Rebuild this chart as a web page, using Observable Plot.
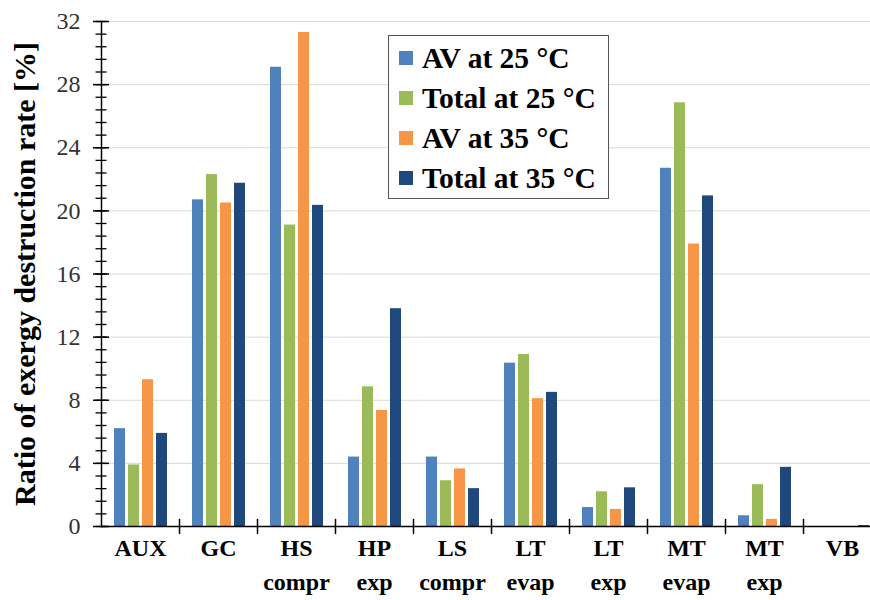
<!DOCTYPE html>
<html>
<head>
<meta charset="utf-8">
<script src="https://cdn.jsdelivr.net/npm/d3@7"></script>
<script src="https://cdn.jsdelivr.net/npm/@observablehq/plot@0.6"></script>
<style>
  html, body { margin: 0; padding: 0; background: #fff; overflow: hidden; }
  #wrap { position: relative; width: 870px; height: 600px; }
  #legend {
    position: absolute; left: 388px; top: 35px; width: 219px; height: 160px;
    border: 1px solid #555; background: #fff; box-sizing: content-box;
    font-family: "Liberation Serif", "Times New Roman", serif; font-weight: bold; font-size: 29.5px;
    color: #000; padding-top: 2px;
  }
  .row { height: 40px; display: flex; align-items: center; }
  .sw { width: 14px; height: 14px; margin-left: 10px; margin-right: 9px; flex: none; }
</style>
</head>
<body>
<div id="wrap"><div id="chart"></div><div id="legend"></div></div>
<script>
const categories = ["AUX", "GC", "HS compr", "HP exp", "LS compr", "LT evap", "LT exp", "MT evap", "MT exp", "VB"];
const categoryLabels = ["AUX", "GC", "HS\ncompr", "HP\nexp", "LS\ncompr", "LT\nevap", "LT\nexp", "MT\nevap", "MT\nexp", "VB"];
const series = ["AV at 25 °C", "Total at 25 °C", "AV at 35 °C", "Total at 35 °C"];
const av25    = [6.2, 20.7, 29.1, 4.4, 4.4, 10.35, 1.2, 22.7, 0.68, 0];
const total25 = [3.9, 22.3, 19.1, 8.85, 2.9, 10.9, 2.2, 26.85, 2.65, 0];
const av35    = [9.3, 20.5, 31.3, 7.35, 3.65, 8.1, 1.08, 17.9, 0.45, 0];
const total35 = [5.9, 21.75, 20.35, 13.8, 2.4, 8.5, 2.45, 20.95, 3.75, 0.06];
const seriesColors = ["#4F81BD", "#9BBB59", "#F79646", "#1F497D"];
const yLabel = "Ratio of exergy destruction rate [%]";
const majorTicks = [0, 4, 8, 12, 16, 20, 24, 28, 32];
const minorTicks = [0,0.8,1.6,2.4,3.2,4,4.8,5.6,6.4,7.2,8,8.8,9.6,10.4,11.2,12,12.8,13.6,14.4,15.2,16,16.8,17.6,18.4,19.2,20,20.8,21.6,22.4,23.2,24,24.8,25.6,26.4,27.2,28,28.8,29.6,30.4,31.2,32];

const seriesValues = [av25, total25, av35, total35];
const rows = [];
categories.forEach((c, i) => {
  series.forEach((s, j) => rows.push({category: c, series: s, value: seriesValues[j][i]}));
});

const font = "Liberation Serif, Times New Roman, serif";
const tickShape = {draw(context, l) { context.moveTo(0, 0); context.lineTo(0, -l); }};

const chart = Plot.plot({
  width: 870,
  height: 600,
  marginLeft: 99,
  marginRight: -12.3,
  marginTop: 21,
  marginBottom: 74,
  style: {fontFamily: font, background: "#fff"},
  fx: {domain: categories, padding: 0, axis: null},
  x: {domain: series, paddingInner: 0.24, paddingOuter: 0.88, axis: null},
  y: {domain: [0, 32], axis: null},
  color: {domain: series, range: seriesColors},
  marks: [
    Plot.ruleY(majorTicks.filter(d => d > 0), {stroke: "#d9d9d9", strokeWidth: 1}),
    Plot.barY(rows, {fx: "category", x: "series", y: "value", fill: "series", inset: 0}),
    Plot.ruleY([0], {stroke: "#000", strokeWidth: 1.5}),
    Plot.frame({anchor: "left", facetAnchor: "left", stroke: "#000", strokeWidth: 1.5}),
    Plot.axisY(majorTicks, {tickSize: 16, dx: 8, fill: "none", label: null, stroke: "#000", strokeWidth: 1.5}),
    Plot.axisY(minorTicks, {tickSize: 11, dx: 5.5, fill: "none", label: null, stroke: "#000", strokeWidth: 1.3}),
    Plot.axisY(majorTicks, {tickSize: 0, tickPadding: 21, fontSize: 24, fill: "#333", label: null}),
    Plot.vector(categories.slice(1), {fx: d => d, frameAnchor: "bottom-left", rotate: 0, length: 14, anchor: "middle", shape: tickShape, stroke: "#000", strokeWidth: 1.5}),
    Plot.text(categories, {fx: d => d, text: (d, i) => categoryLabels[i], frameAnchor: "bottom", lineAnchor: "top", dy: 5, fontSize: 24, fontWeight: "bold", lineHeight: 1.42, fill: "#000"}),
    Plot.text([yLabel], {fx: () => categories[0], frameAnchor: "left", rotate: -90, dx: -76, lineAnchor: "middle", textAnchor: "middle", fontSize: 30, fontWeight: "bold", fill: "#000"})
  ]
});
document.getElementById("chart").appendChild(chart);

const legend = document.getElementById("legend");
series.forEach((s, j) => {
  const row = document.createElement("div");
  row.className = "row";
  const sw = document.createElement("span");
  sw.className = "sw";
  sw.style.background = seriesColors[j];
  const t = document.createElement("span");
  t.textContent = s;
  row.appendChild(sw);
  row.appendChild(t);
  legend.appendChild(row);
});
</script>
</body>
</html>
